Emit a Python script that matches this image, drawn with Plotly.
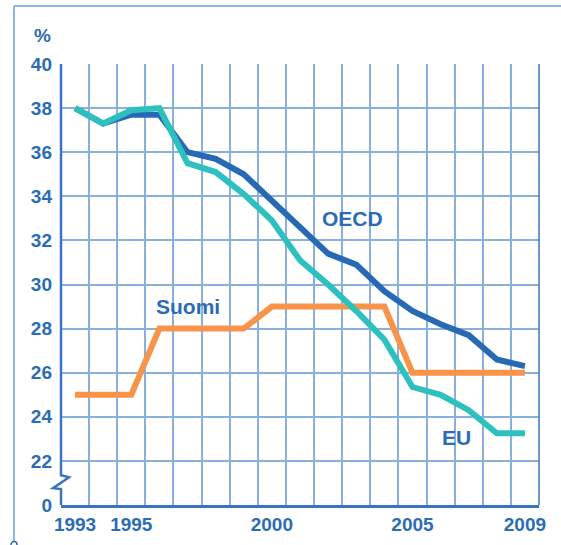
import plotly.graph_objects as go

years = list(range(1993, 2010))
oecd = [38.0, 37.3, 37.7, 37.7, 36.0, 35.7, 35.0, 33.8, 32.6, 31.4, 30.9, 29.7, 28.8, 28.2, 27.7, 26.6, 26.3]
eu = [38.0, 37.3, 37.9, 38.0, 35.5, 35.1, 34.1, 32.9, 31.1, 30.0, 28.8, 27.5, 25.35, 25.0, 24.3, 23.25, 23.25]
suomi = [25, 25, 25, 28, 28, 28, 28, 29, 29, 29, 29, 29, 26, 26, 26, 26, 26]

x_tickvals = [1993, 1995, 2000, 2005, 2009]
x_ticktext = ["1993", "1995", "2000", "2005", "2009"]
y_tickvals = [20, 22, 24, 26, 28, 30, 32, 34, 36, 38, 40]
y_ticktext = ["0", "22", "24", "26", "28", "30", "32", "34", "36", "38", "40"]

BLUE_TXT = "#2b6cb5"
C_OECD = "#2869b5"
C_EU = "#2ec0bf"
C_SUOMI = "#f7944a"
GRID = "#88b0df"
AXIS = "#3a74c0"
FONT = "Liberation Sans"

fig = go.Figure()
fig.add_trace(go.Scatter(x=years, y=oecd, mode="lines", line=dict(color=C_OECD, width=6), name="OECD"))
fig.add_trace(go.Scatter(x=years, y=suomi, mode="lines", line=dict(color=C_SUOMI, width=6), name="Suomi"))
fig.add_trace(go.Scatter(x=years, y=eu, mode="lines", line=dict(color=C_EU, width=6), name="EU"))

label_font = dict(family=FONT, size=21, color=BLUE_TXT)
fig.add_annotation(x=2002.88, y=33.0, text="<b>OECD</b>", showarrow=False, font=label_font)
fig.add_annotation(x=1997.02, y=29.0, text="<b>Suomi</b>", showarrow=False, font=label_font)
fig.add_annotation(x=2006.55, y=23.08, text="<b>EU</b>", showarrow=False, font=label_font)
fig.add_annotation(x=-0.0397, y=1.0635, xref="paper", yref="paper", text="<b>%</b>",
                   xanchor="center", yanchor="middle",
                   showarrow=False, font=dict(family=FONT, size=19, color=BLUE_TXT))

# broken left axis with zigzag
fig.add_shape(type="path", xref="paper", yref="y",
              path="M 0,40 L 0,21.35 L 0.0167,21.26 L -0.0167,20.76 L 0,20.72 L 0,20",
              line=dict(color=AXIS, width=2.5))
# right edge line
fig.add_shape(type="line", xref="paper", yref="y", x0=1, x1=1, y0=20, y1=40,
              line=dict(color=AXIS, width=1.5))
# outer frame (left and top)
fig.add_shape(type="line", xref="paper", yref="paper", x0=-0.0983, x1=-0.0983, y0=-0.085, y1=1.1315,
              line=dict(color="#6a9fd8", width=1.5))
fig.add_shape(type="line", xref="paper", yref="paper", x0=-0.0983, x1=1.1, y0=1.1315, y1=1.1315,
              line=dict(color="#6a9fd8", width=1.5))
fig.add_shape(type="circle", xref="paper", yref="paper", x0=-0.1046, x1=-0.092, y0=-0.097, y1=-0.083,
              line=dict(color="#2b6cb5", width=1.5), fillcolor="white")

fig.update_layout(
    width=561, height=545,
    margin=dict(l=61, r=22, t=64, b=40, autoexpand=False),
    plot_bgcolor="white", paper_bgcolor="white",
    showlegend=False,
    font=dict(family=FONT, color=BLUE_TXT),
    xaxis=dict(range=[1992.5, 2009.5], tickvals=x_tickvals, ticktext=[f"<b>{t}</b>" for t in x_ticktext],
               showgrid=False, zeroline=False, showline=True, linecolor=AXIS, linewidth=2.5,
               ticks="", tickfont=dict(family=FONT, size=19, color=BLUE_TXT), ticklabelstandoff=0,
               minor=dict(tickvals=[y + 0.5 for y in years], showgrid=True, gridcolor=GRID, gridwidth=2, ticks=""),
               fixedrange=True),
    yaxis=dict(range=[20, 40], tickvals=y_tickvals, ticktext=[f"<b>{t}</b>" for t in y_ticktext],
               showgrid=True, gridcolor=GRID, gridwidth=2, zeroline=False, showline=False,
               ticks="", tickfont=dict(family=FONT, size=19, color=BLUE_TXT), ticklabelstandoff=8,
               fixedrange=True),
)

fig.write_html("out.html", config={"displayModeBar": False},
               post_script="document.body.style.margin='0';document.body.style.padding='0';")
